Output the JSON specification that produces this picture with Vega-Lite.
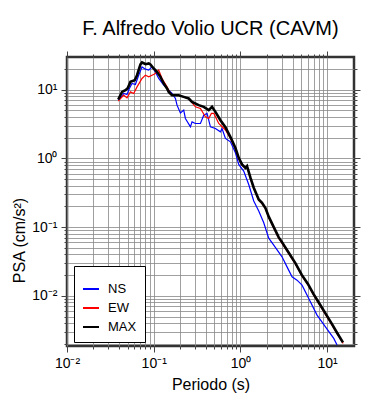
{
  "$schema": "https://vega.github.io/schema/vega-lite/v6.json",
  "autosize": {"type": "none"},
  "padding": {"left": 67, "top": 57, "right": 36, "bottom": 54},
  "width": 287,
  "height": 289,
  "background": "white",
  "title": {"text": "F. Alfredo Volio UCR (CAVM)", "fontSize": 20, "font": "Liberation Sans", "fontWeight": "normal", "color": "black", "anchor": "middle", "offset": 12},
  "config": {
    "view": {"stroke": "#333", "strokeWidth": 2.5},
    "axis": {"labelFont": "Liberation Sans", "titleFont": "Liberation Sans", "labelColor": "black", "titleColor": "black", "titleFontWeight": "normal", "domain": false, "tickColor": "#444", "gridColor": "#888", "gridWidth": 0.8, "gridOpacity": 1}
  },
  "data": {"values": [
    {"s":"NS","T":0.039,"PSA":7.06},{"s":"NS","T":0.0424,"PSA":7.88},{"s":"NS","T":0.0451,"PSA":8.83},{"s":"NS","T":0.0492,"PSA":8.54},{"s":"NS","T":0.0524,"PSA":10.44},{"s":"NS","T":0.0562,"PSA":12.35},{"s":"NS","T":0.0615,"PSA":11.94},{"s":"NS","T":0.0671,"PSA":16.31},{"s":"NS","T":0.0733,"PSA":21.54},{"s":"NS","T":0.0802,"PSA":19.95},{"s":"NS","T":0.0876,"PSA":19.29},{"s":"NS","T":0.0956,"PSA":21.54},{"s":"NS","T":0.1046,"PSA":18.22},{"s":"NS","T":0.1142,"PSA":14.6},{"s":"NS","T":0.1304,"PSA":11.67},{"s":"NS","T":0.149,"PSA":9.87},{"s":"NS","T":0.1626,"PSA":8.83},{"s":"NS","T":0.178,"PSA":7.47},{"s":"NS","T":0.1857,"PSA":5.97},{"s":"NS","T":0.2032,"PSA":4.6},{"s":"NS","T":0.2218,"PSA":5.05},{"s":"NS","T":0.232,"PSA":3.82},{"s":"NS","T":0.265,"PSA":2.88},{"s":"NS","T":0.2766,"PSA":3.41},{"s":"NS","T":0.3027,"PSA":3.23},{"s":"NS","T":0.3456,"PSA":3.23},{"s":"NS","T":0.3773,"PSA":4.27},{"s":"NS","T":0.412,"PSA":4.52},{"s":"NS","T":0.4508,"PSA":2.88},{"s":"NS","T":0.5148,"PSA":2.73},{"s":"NS","T":0.5879,"PSA":2.44},{"s":"NS","T":0.6136,"PSA":2.73},{"s":"NS","T":0.6714,"PSA":1.955},{"s":"NS","T":0.767,"PSA":1.744},{"s":"NS","T":0.8755,"PSA":1.21},{"s":"NS","T":0.956,"PSA":0.818},{"s":"NS","T":1.091,"PSA":0.656},{"s":"NS","T":1.246,"PSA":0.418},{"s":"NS","T":1.424,"PSA":0.24},{"s":"NS","T":1.626,"PSA":0.1715},{"s":"NS","T":1.857,"PSA":0.1159},{"s":"NS","T":2.12,"PSA":0.0691},{"s":"NS","T":2.422,"PSA":0.0547},{"s":"NS","T":3.018,"PSA":0.037},{"s":"NS","T":3.447,"PSA":0.0264},{"s":"NS","T":3.937,"PSA":0.0189},{"s":"NS","T":4.496,"PSA":0.0169},{"s":"NS","T":5.135,"PSA":0.0143},{"s":"NS","T":6.134,"PSA":0.00917},{"s":"NS","T":7.647,"PSA":0.00524},{"s":"NS","T":9.56,"PSA":0.00354},{"s":"NS","T":11.92,"PSA":0.0024},{"s":"NS","T":13.01,"PSA":0.00192},
    {"s":"EW","T":0.039,"PSA":6.82},{"s":"EW","T":0.0451,"PSA":8.34},{"s":"EW","T":0.0492,"PSA":7.62},{"s":"EW","T":0.0539,"PSA":9.32},{"s":"EW","T":0.0588,"PSA":8.83},{"s":"EW","T":0.0642,"PSA":11.02},{"s":"EW","T":0.0733,"PSA":14.6},{"s":"EW","T":0.0802,"PSA":16.31},{"s":"EW","T":0.0876,"PSA":15.41},{"s":"EW","T":0.0956,"PSA":16.31},{"s":"EW","T":0.1046,"PSA":17.28},{"s":"EW","T":0.1142,"PSA":19.29},{"s":"EW","T":0.1247,"PSA":14.6},{"s":"EW","T":0.1423,"PSA":11.02},{"s":"EW","T":0.1558,"PSA":8.83},{"s":"EW","T":0.1701,"PSA":8.34},{"s":"EW","T":0.1943,"PSA":8.3},{"s":"EW","T":0.2218,"PSA":7.85},{"s":"EW","T":0.2533,"PSA":7.4},{"s":"EW","T":0.3027,"PSA":5.64},{"s":"EW","T":0.3456,"PSA":5.34},{"s":"EW","T":0.3947,"PSA":4.03},{"s":"EW","T":0.431,"PSA":3.82},{"s":"EW","T":0.4629,"PSA":4.52},{"s":"EW","T":0.494,"PSA":4.52},{"s":"EW","T":0.562,"PSA":3.23},{"s":"EW","T":0.6714,"PSA":2.6},{"s":"EW","T":0.767,"PSA":1.95},{"s":"EW","T":0.8755,"PSA":1.38},{"s":"EW","T":0.956,"PSA":1.0},{"s":"EW","T":1.043,"PSA":0.8},{"s":"EW","T":1.142,"PSA":0.72},{"s":"EW","T":1.191,"PSA":0.76},{"s":"EW","T":1.304,"PSA":0.51},{"s":"EW","T":1.424,"PSA":0.365},{"s":"EW","T":1.626,"PSA":0.246},{"s":"EW","T":1.775,"PSA":0.22},{"s":"EW","T":1.943,"PSA":0.186},{"s":"EW","T":2.12,"PSA":0.138},{"s":"EW","T":2.422,"PSA":0.097},{"s":"EW","T":2.765,"PSA":0.069},{"s":"EW","T":3.0,"PSA":0.059},{"s":"EW","T":3.5,"PSA":0.0437},{"s":"EW","T":4.3,"PSA":0.0291},{"s":"EW","T":5.1,"PSA":0.0196},{"s":"EW","T":6.0,"PSA":0.0145},{"s":"EW","T":7.0,"PSA":0.0102},{"s":"EW","T":8.2,"PSA":0.00735},{"s":"EW","T":9.6,"PSA":0.0053},{"s":"EW","T":11.2,"PSA":0.00385},{"s":"EW","T":13.0,"PSA":0.00283},{"s":"EW","T":15.3,"PSA":0.00203},
    {"s":"MAX","T":0.039,"PSA":7.22},{"s":"MAX","T":0.0431,"PSA":9.32},{"s":"MAX","T":0.0472,"PSA":9.87},{"s":"MAX","T":0.0501,"PSA":10.55},{"s":"MAX","T":0.0539,"PSA":13.03},{"s":"MAX","T":0.0604,"PSA":13.79},{"s":"MAX","T":0.0642,"PSA":16.31},{"s":"MAX","T":0.0703,"PSA":23.35},{"s":"MAX","T":0.0733,"PSA":24.97},{"s":"MAX","T":0.0809,"PSA":23.59},{"s":"MAX","T":0.0876,"PSA":24.14},{"s":"MAX","T":0.0916,"PSA":23.35},{"s":"MAX","T":0.1,"PSA":20.42},{"s":"MAX","T":0.109,"PSA":18.22},{"s":"MAX","T":0.1195,"PSA":15.41},{"s":"MAX","T":0.1304,"PSA":12.35},{"s":"MAX","T":0.1423,"PSA":10.44},{"s":"MAX","T":0.149,"PSA":9.32},{"s":"MAX","T":0.1626,"PSA":8.34},{"s":"MAX","T":0.1943,"PSA":8.34},{"s":"MAX","T":0.2218,"PSA":7.88},{"s":"MAX","T":0.2533,"PSA":7.47},{"s":"MAX","T":0.2766,"PSA":6.67},{"s":"MAX","T":0.3304,"PSA":5.97},{"s":"MAX","T":0.3773,"PSA":5.64},{"s":"MAX","T":0.431,"PSA":5.05},{"s":"MAX","T":0.4704,"PSA":5.64},{"s":"MAX","T":0.5148,"PSA":4.77},{"s":"MAX","T":0.5879,"PSA":3.61},{"s":"MAX","T":0.6714,"PSA":2.85},{"s":"MAX","T":0.767,"PSA":2.05},{"s":"MAX","T":0.8755,"PSA":1.42},{"s":"MAX","T":0.956,"PSA":1.02},{"s":"MAX","T":1.043,"PSA":0.82},{"s":"MAX","T":1.142,"PSA":0.73},{"s":"MAX","T":1.191,"PSA":0.775},{"s":"MAX","T":1.304,"PSA":0.524},{"s":"MAX","T":1.424,"PSA":0.375},{"s":"MAX","T":1.626,"PSA":0.253},{"s":"MAX","T":1.775,"PSA":0.2265},{"s":"MAX","T":1.943,"PSA":0.19},{"s":"MAX","T":2.12,"PSA":0.142},{"s":"MAX","T":2.422,"PSA":0.1},{"s":"MAX","T":2.765,"PSA":0.071},{"s":"MAX","T":3.0,"PSA":0.061},{"s":"MAX","T":3.5,"PSA":0.045},{"s":"MAX","T":4.3,"PSA":0.03},{"s":"MAX","T":5.1,"PSA":0.0202},{"s":"MAX","T":6.0,"PSA":0.0149},{"s":"MAX","T":7.0,"PSA":0.0105},{"s":"MAX","T":8.2,"PSA":0.0076},{"s":"MAX","T":9.6,"PSA":0.0055},{"s":"MAX","T":11.2,"PSA":0.004},{"s":"MAX","T":13.0,"PSA":0.0029},{"s":"MAX","T":15.2,"PSA":0.0021}
  ]},
  "resolve": {"axis": {"x": "independent", "y": "independent"}},
  "layer": [
    {
      "mark": {"type": "line", "clip": true},
      "encoding": {
        "x": {"field": "T", "type": "quantitative",
          "scale": {"type": "log", "domain": [0.01, 20.4], "nice": false},
          "axis": {"orient": "bottom", "title": "Periodo (s)", "titleFontSize": 16, "titlePadding": 6,
            "values": [0.01,0.02,0.03,0.04,0.05,0.06,0.07,0.08,0.09,0.1,0.2,0.3,0.4,0.5,0.6,0.7,0.8,0.9,1,2,3,4,5,6,7,8,9,10],
            "grid": true, "labelFontSize": 14, "labelFlush": false, "labelOverlap": false, "labelPadding": 4,
            "tickSize": {"condition": {"test": "datum.value == 0.01 || datum.value == 0.1 || datum.value == 1 || datum.value == 10", "value": 6}, "value": 3},
            "labelExpr": "datum.value == 0.01 ? '10⁻²' : datum.value == 0.1 ? '10⁻¹' : datum.value == 1 ? '10⁰' : datum.value == 10 ? '10¹' : ''"}},
        "y": {"field": "PSA", "type": "quantitative",
          "scale": {"type": "log", "domain": [0.00186, 30], "nice": false},
          "axis": {"orient": "left", "title": "PSA (cm/s²)", "titleFontSize": 16, "titleY": 183,
            "values": [0.002,0.003,0.004,0.005,0.006,0.007,0.008,0.009,0.01,0.02,0.03,0.04,0.05,0.06,0.07,0.08,0.09,0.1,0.2,0.3,0.4,0.5,0.6,0.7,0.8,0.9,1,2,3,4,5,6,7,8,9,10,20],
            "grid": true, "labelFontSize": 14, "labelFlush": false, "labelOverlap": false, "labelPadding": 4,
            "tickSize": {"condition": {"test": "datum.value == 0.01 || datum.value == 0.1 || datum.value == 1 || datum.value == 10", "value": 6}, "value": 3},
            "labelExpr": "datum.value == 0.01 ? '10⁻²' : datum.value == 0.1 ? '10⁻¹' : datum.value == 1 ? '10⁰' : datum.value == 10 ? '10¹' : ''"}},
        "color": {"field": "s", "type": "nominal",
          "scale": {"domain": ["NS", "EW", "MAX"], "range": ["#0000ff", "#ff0000", "#000000"]},
          "legend": {"orient": "none", "legendX": 7, "legendY": 209, "title": "\u00a0\u00a0\u00a0\u00a0\u00a0\u00a0\u00a0\u00a0\u00a0\u00a0\u00a0\u00a0\u00a0\u00a0\u00a0\u00a0\u00a0\u00a0\u00a0\u00a0\u00a0\u00a0\u00a0\u00a0\u00a0\u00a0\u00a0\u00a0\u00a0\u00a0\u00a0\u00a0\u00a0\u00a0\u00a0\u00a0\u00a0\u00a0", "titleFontSize": 6, "titlePadding": 0,
            "symbolType": "stroke", "symbolStrokeWidth": 2, "symbolSize": 256, "labelFontSize": 13, "labelFont": "Liberation Sans", "labelColor": "black",
            "padding": 8, "rowPadding": 3, "labelOffset": 8, "strokeColor": "black", "fillColor": "white"}},
        "strokeWidth": {"condition": {"test": "datum.s == 'MAX'", "value": 2.6}, "value": 1.2},
        "order": {"field": "T", "type": "quantitative"}
      }
    },
    {
      "mark": {"type": "point", "opacity": 0},
      "encoding": {
        "x": {"field": "T", "type": "quantitative",
          "axis": {"orient": "top", "title": null, "labels": false, "grid": false,
            "values": [0.01,0.02,0.03,0.04,0.05,0.06,0.07,0.08,0.09,0.1,0.2,0.3,0.4,0.5,0.6,0.7,0.8,0.9,1,2,3,4,5,6,7,8,9,10],
            "tickSize": {"condition": {"test": "datum.value == 0.01 || datum.value == 0.1 || datum.value == 1 || datum.value == 10", "value": 6}, "value": 3}}},
        "y": {"field": "PSA", "type": "quantitative",
          "axis": {"orient": "right", "title": null, "labels": false, "grid": false,
            "values": [0.002,0.003,0.004,0.005,0.006,0.007,0.008,0.009,0.01,0.02,0.03,0.04,0.05,0.06,0.07,0.08,0.09,0.1,0.2,0.3,0.4,0.5,0.6,0.7,0.8,0.9,1,2,3,4,5,6,7,8,9,10,20],
            "tickSize": {"condition": {"test": "datum.value == 0.01 || datum.value == 0.1 || datum.value == 1 || datum.value == 10", "value": 6}, "value": 3}}}
      }
    }
  ]
}
